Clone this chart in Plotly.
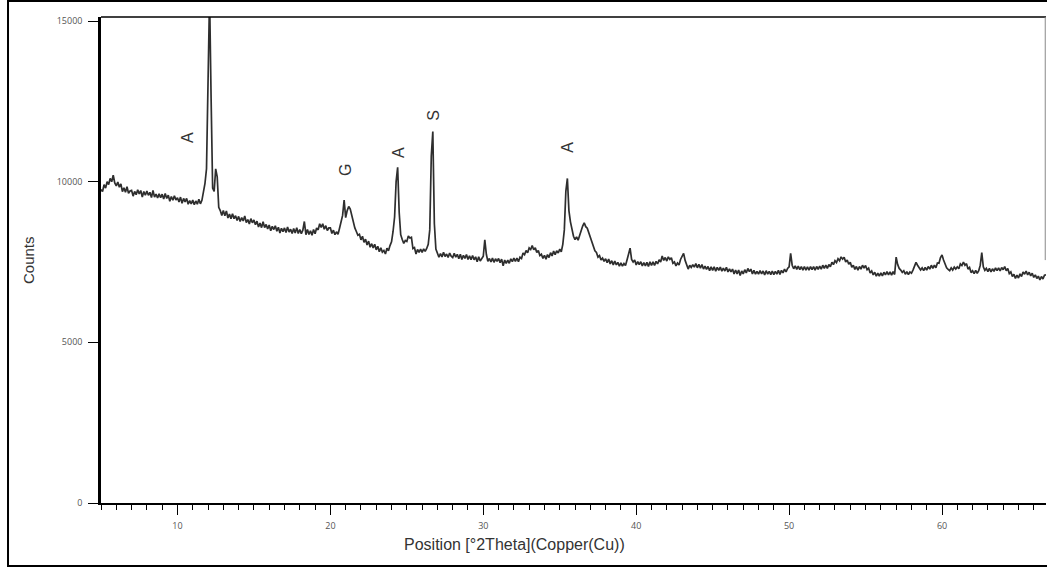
import plotly.graph_objects as go

# Scan parameters (°2Theta) and counts, one row per degree
two_theta_start = 5.0
two_theta_step = 0.1
counts = [
    # 5.0 - 5.9
    9760, 9690, 9910, 9800, 10000, 9910, 10100, 10000, 10200, 9960,
    # 6
    9870, 9990, 9830, 9930, 9690, 9810, 9670, 9840, 9640, 9710,
    # 7
    9730, 9550, 9695, 9595, 9750, 9620, 9725, 9520, 9695, 9580,
    # 8
    9710, 9575, 9670, 9505, 9730, 9520, 9615, 9490, 9620, 9500,
    # 9
    9610, 9460, 9630, 9480, 9580, 9390, 9540, 9420, 9560, 9430,
    # 10
    9500, 9370, 9520, 9325, 9480, 9370, 9480, 9300, 9410, 9310,
    # 11
    9430, 9280, 9400, 9300, 9450, 9310, 9420, 9650, 9950, 10400,
    # 12
    12800, 15800, 12600, 9800, 9700, 10400, 10150, 9200, 9100, 8950,
    # 13
    9100, 8940, 9090, 8870, 8990, 8850, 9000, 8850, 8940, 8790,
    # 14
    8920, 8760, 8880, 8780, 8935, 8730, 8820, 8680, 8850, 8720,
    # 15
    8810, 8660, 8770, 8590, 8710, 8570, 8750, 8570, 8670, 8530,
    # 16
    8650, 8470, 8610, 8510, 8630, 8460, 8580, 8405, 8550, 8445,
    # 17
    8560, 8415, 8590, 8435, 8520, 8385, 8540, 8405, 8570, 8385,
    # 18
    8510, 8380, 8490, 8760, 8350, 8510, 8360, 8470, 8330, 8510,
    # 19
    8380, 8560, 8500, 8690, 8580, 8690, 8520, 8630, 8480, 8560,
    # 20
    8560, 8390, 8490, 8350, 8440, 8360, 8550, 8760, 8950, 9430,
    # 21
    8880, 9100, 9230, 9150, 8950, 8700, 8560, 8450, 8330, 8360,
    # 22
    8190, 8300, 8110, 8210, 8030, 8150, 7960, 8070, 7940, 8050,
    # 23
    7880, 7990, 7820, 7940, 7810, 7860, 7750, 7930, 7850, 8010,
    # 24
    8130, 8450, 8900, 10000, 10450, 9050, 8350, 8200, 8080, 8170,
    # 25
    8140, 8310, 8250, 8270, 7920, 7950, 7750, 7890, 7800, 7900,
    # 26
    7800, 7910, 7830, 7920, 8050, 8500, 10800, 11560, 8700, 7900,
    # 27
    7780, 7650, 7760, 7660, 7800, 7670, 7750, 7640, 7780, 7680,
    # 28
    7640, 7770, 7650, 7740, 7600, 7740, 7580, 7710, 7610, 7735,
    # 29
    7580, 7690, 7570, 7700, 7570, 7660, 7510, 7660, 7530, 7620,
    # 30
    7680, 8190, 7740, 7520, 7610, 7500, 7620, 7490, 7600, 7520,
    # 31
    7610, 7480, 7590, 7380, 7560, 7460, 7560, 7460, 7600, 7510,
    # 32
    7620, 7520, 7620, 7510, 7650, 7610, 7780, 7730, 7860, 7790,
    # 33
    7940, 7890, 8010, 7880, 7940, 7800, 7860, 7700, 7740, 7610,
    # 34
    7710, 7590, 7730, 7640, 7790, 7690, 7840, 7730, 7850, 7780,
    # 35
    7900, 7820, 8050, 8500, 9700, 10100, 9100, 8750, 8500, 8300,
    # 36
    8200, 8280, 8180, 8350, 8500, 8620, 8720, 8600, 8550, 8400,
    # 37
    8280, 8150, 8020, 7850, 7800, 7650, 7700, 7560, 7620, 7520,
    # 38
    7600, 7480, 7590, 7440, 7540, 7410, 7530, 7410, 7490, 7370,
    # 39
    7470, 7370, 7450, 7390, 7560, 7750, 7930, 7580, 7500, 7560,
    # 40
    7410, 7510, 7420, 7510, 7380, 7485, 7380, 7490, 7360, 7505,
    # 41
    7390, 7505, 7390, 7520, 7440, 7570, 7500, 7690, 7550, 7640,
    # 42
    7530, 7660, 7580, 7630, 7460, 7500, 7380, 7470, 7410, 7580,
    # 43
    7680, 7770, 7550, 7400, 7280, 7400, 7330, 7420, 7340, 7450,
    # 44
    7320, 7430, 7310, 7420, 7280, 7370, 7270, 7360, 7230, 7350,
    # 45
    7240, 7350, 7215, 7335, 7240, 7340, 7215, 7310, 7220, 7335,
    # 46
    7190, 7290, 7190, 7280, 7130, 7250, 7130, 7250, 7080, 7220,
    # 47
    7130, 7260, 7160, 7300, 7200, 7280, 7130, 7240, 7120, 7210,
    # 48
    7120, 7230, 7130, 7220, 7100, 7230, 7120, 7210, 7110, 7220,
    # 49
    7110, 7210, 7125, 7240, 7115, 7240, 7160, 7280, 7190, 7300,
    # 50
    7350, 7770, 7400, 7290, 7380, 7270, 7370, 7260, 7360, 7250,
    # 51
    7360, 7250, 7345, 7250, 7360, 7260, 7360, 7250, 7360, 7270,
    # 52
    7370, 7280, 7400, 7300, 7400, 7300, 7420, 7350, 7490, 7420,
    # 53
    7540, 7480, 7600, 7540, 7660, 7590, 7650, 7500, 7560, 7430,
    # 54
    7490, 7340, 7400, 7270, 7360, 7250, 7360, 7280, 7400, 7310,
    # 55
    7390, 7260, 7310, 7160, 7220, 7100, 7180, 7060, 7150, 7060,
    # 56
    7160, 7070, 7180, 7100, 7200, 7100, 7190, 7090, 7200, 7110,
    # 57
    7650, 7420, 7300, 7250, 7180, 7230, 7120, 7200, 7110, 7190,
    # 58
    7150, 7250, 7380, 7490, 7400, 7330, 7250, 7320, 7230, 7330,
    # 59
    7250, 7360, 7280, 7400, 7300, 7400, 7320, 7470, 7460, 7640,
    # 60
    7720, 7560, 7420, 7320, 7270, 7230, 7320, 7250, 7340, 7280,
    # 61
    7350, 7290, 7440, 7390, 7500, 7400, 7450, 7280, 7330, 7170,
    # 62
    7230, 7140, 7240, 7150, 7230, 7400, 7790, 7350, 7240, 7300,
    # 63
    7200, 7300, 7190, 7290, 7210, 7320, 7230, 7320, 7220, 7330,
    # 64
    7260, 7360, 7230, 7300, 7140, 7190, 7050, 7120, 6990, 7090,
    # 65
    7000, 7130, 7050, 7190, 7120, 7220, 7100, 7180, 7070, 7150,
    # 66.0 - 66.8
    7020, 7100, 6990, 7060, 6940, 7050, 6970, 7090, 7100,
]
two_theta = [round(two_theta_start + i * two_theta_step, 2) for i in range(len(counts))]

# Phase labels at the peaks
label_text = ["A", "G", "A", "S", "A"]
label_theta = [10.69, 20.95, 24.42, 26.70, 35.53]
label_counts = [11360, 10360, 10920, 12075, 11080]

y_ticks = [0, 5000, 10000, 15000]
x_range = [5.0, 66.8]
y_range = [0, 15125]

fig = go.Figure()
fig.add_trace(go.Scatter(
    x=two_theta, y=counts, mode="lines",
    line=dict(color="#2e2e2e", width=1.7),
    showlegend=False, hoverinfo="skip",
))

for t, xv, yv in zip(label_text, label_theta, label_counts):
    fig.add_annotation(x=xv, y=yv, xref="x", yref="y", text=t, showarrow=False,
                       textangle=-90, xanchor="center", yanchor="middle",
                       font=dict(family="Liberation Sans, Arial", size=16, color="#333333"))

# Axis titles
fig.add_annotation(x=-0.0772, y=0.5, xref="paper", yref="paper", text="Counts",
                   showarrow=False, textangle=-90, xanchor="center", yanchor="middle",
                   font=dict(family="Liberation Sans, Arial", size=15, color="#333333"))
fig.add_annotation(x=0.438, y=-0.0864, xref="paper", yref="paper",
                   text="Position [°2Theta](Copper(Cu))", showarrow=False,
                   xanchor="center", yanchor="middle",
                   font=dict(family="Liberation Sans, Arial", size=16, color="#333333"))

# Frame pieces
fig.add_shape(type="line", xref="paper", yref="paper", x0=0, x1=1, y0=1, y1=1,
              line=dict(color="black", width=1.5))
fig.add_shape(type="line", xref="x", yref="y", x0=66.75, x1=66.75, y0=7560, y1=y_range[1],
              line=dict(color="#888888", width=1))
fig.add_shape(type="rect", xref="paper", yref="paper",
              x0=-0.0984, x1=1.02, y0=-0.1296, y1=1.0329,
              line=dict(color="black", width=2), fillcolor="rgba(0,0,0,0)")

fig.update_xaxes(
    range=x_range, tick0=0, dtick=10, ticks="outside", ticklen=10, tickwidth=1,
    tickcolor="black", showline=True, linecolor="black", linewidth=1.5,
    showgrid=False, zeroline=False, ticklabelstandoff=3,
    tickfont=dict(family="Open Sans", size=9, color="#555555"),
    minor=dict(dtick=1, tick0=0, ticks="outside", ticklen=5, tickwidth=1, tickcolor="black",
               showgrid=False),
)
fig.update_yaxes(
    range=y_range, tickvals=y_ticks, ticktext=[str(v) for v in y_ticks],
    ticks="outside", ticklen=10, tickwidth=1, tickcolor="black",
    showline=True, linecolor="black", linewidth=2.5,
    showgrid=False, zeroline=False, ticklabelstandoff=4,
    tickfont=dict(family="Open Sans", size=9, color="#555555"),
)
fig.update_layout(
    width=1047, height=569, autosize=False,
    margin=dict(l=101, r=1, t=17, b=66),
    paper_bgcolor="white", plot_bgcolor="white",
    showlegend=False,
)
fig.write_html("out.html")
